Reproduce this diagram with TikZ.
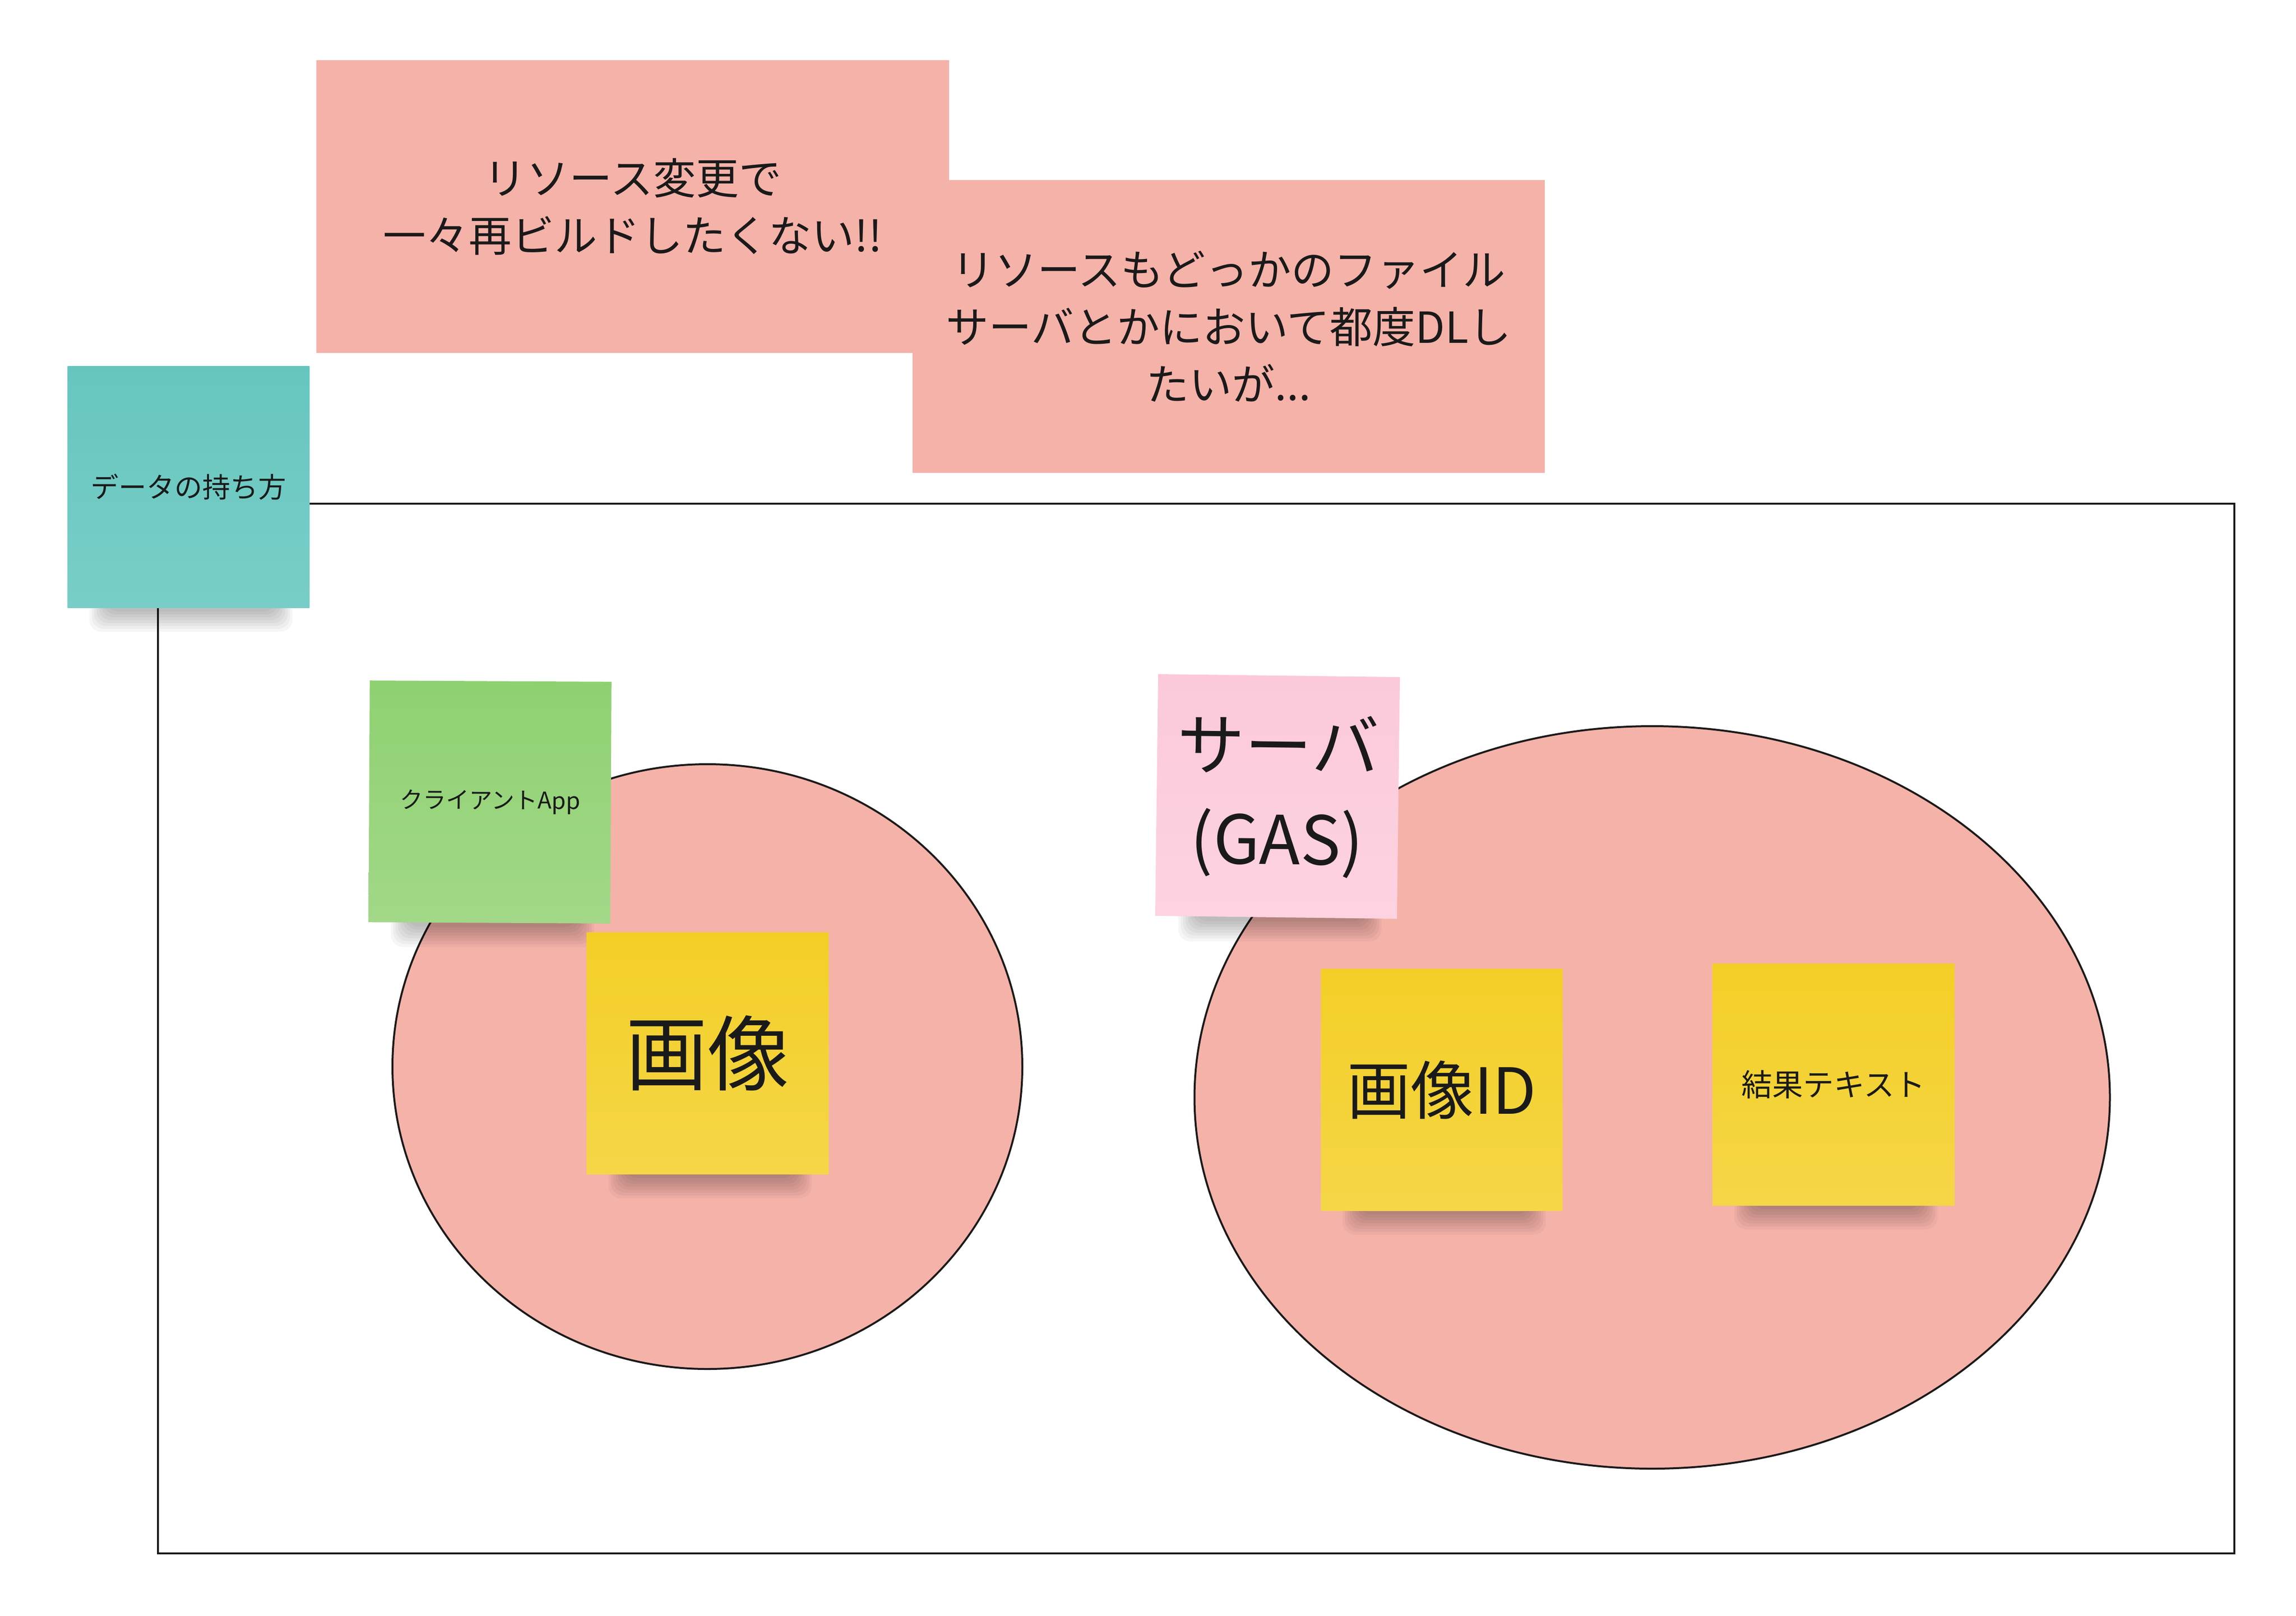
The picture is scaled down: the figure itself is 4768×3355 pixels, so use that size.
\documentclass[tikz,border=0pt]{standalone}
\usepackage{fontspec}
\setmainfont{Noto Sans CJK JP}
\usetikzlibrary{shapes.geometric}
\definecolor{memo}{HTML}{F5B2A9}
\definecolor{ink}{HTML}{1A1A1A}
\definecolor{tealA}{HTML}{66C6BF}
\definecolor{tealB}{HTML}{78CEC7}
\definecolor{greenA}{HTML}{8ED171}
\definecolor{greenB}{HTML}{A2D888}
\definecolor{yelA}{HTML}{F3CF26}
\definecolor{yelB}{HTML}{F5D647}
\definecolor{pinkA}{HTML}{FBC9DA}
\definecolor{pinkB}{HTML}{FDD3E1}
\tikzset{
  memobox/.style={fill=memo, inner sep=0pt, outer sep=0pt, align=center, text=ink,
    font=\fontsize{89}{119}\selectfont},
  stickybase/.style={inner sep=0pt, outer sep=0pt, align=center, text=ink,
    minimum width=502pt, minimum height=502pt},
  tealnote/.style={stickybase, top color=tealA, bottom color=tealB},
  greennote/.style={stickybase, top color=greenA, bottom color=greenB},
  yellownote/.style={stickybase, top color=yelA, bottom color=yelB},
  pinknote/.style={stickybase, top color=pinkA, bottom color=pinkB},
  blob/.style={ellipse, draw=ink, line width=4pt, fill=memo, inner sep=0pt, outer sep=0pt},
  framebox/.style={draw=ink, line width=4pt, inner sep=0pt, outer sep=0pt}
}
% name, cx, cy, style, rotation, text
\newcommand{\mysticky}[6]{%
  \foreach \k in {0,...,7}{%
    \fill[black, opacity=0.035, rounded corners=25pt]
      (#2-251+45+\k*5, #3+251-25+\k*1) rectangle (#2+251-35-\k*5, #3+251+50-\k*6);
  }%
  \node[#4, rotate=#5] (#1) at (#2,#3) {#6};
}
\begin{document}
\begin{tikzpicture}[x=1pt,y=-1pt]
\fill[white] (0,0) rectangle (4768,3355);
\useasboundingbox (0,0) rectangle (4768,3355);

% outer frame
\node[framebox, minimum width=4312pt, minimum height=2180pt] (frame) at (2484,2136) {};

% sets
\node[blob, minimum width=1308pt, minimum height=1256pt] (clientset) at (1469,2215) {};
\node[blob, minimum width=1901pt, minimum height=1542pt] (serverset) at (3431,2279) {};

% memo boxes
\node[memobox, minimum width=1314pt, minimum height=608pt] (memoA) at (1314,429)
  {リソース変更で\\一々再ビルドしたくない!!};
\node[memobox, minimum width=1313pt, minimum height=608pt] (memoB) at (2551.5,678)
  {リソースもどっかのファイル\\サーバとかにおいて都度DLし\\たいが...};

% sticky notes
\mysticky{datanote}{391.5}{1011}{tealnote, font=\fontsize{58}{70}\selectfont}{0}{データの持ち方}
\mysticky{clientnote}{1017.5}{1665.5}{greennote, font=\fontsize{48}{60}\selectfont}{-0.3}{クライアントApp}
\mysticky{imagenote}{1469.5}{2187.5}{yellownote, font=\fontsize{170}{200}\selectfont}{0}{画像}
\mysticky{servernote}{2653}{1654}{pinknote, font=\fontsize{140}{195}\selectfont}{-0.7}{サーバ\\(GAS)}
\mysticky{imageidnote}{2994}{2263}{yellownote, font=\fontsize{132}{160}\selectfont}{0}{画像ID}
\mysticky{resultnote}{3807.5}{2252}{yellownote, font=\fontsize{64}{80}\selectfont}{0}{結果テキスト}
\end{tikzpicture}
\end{document}
